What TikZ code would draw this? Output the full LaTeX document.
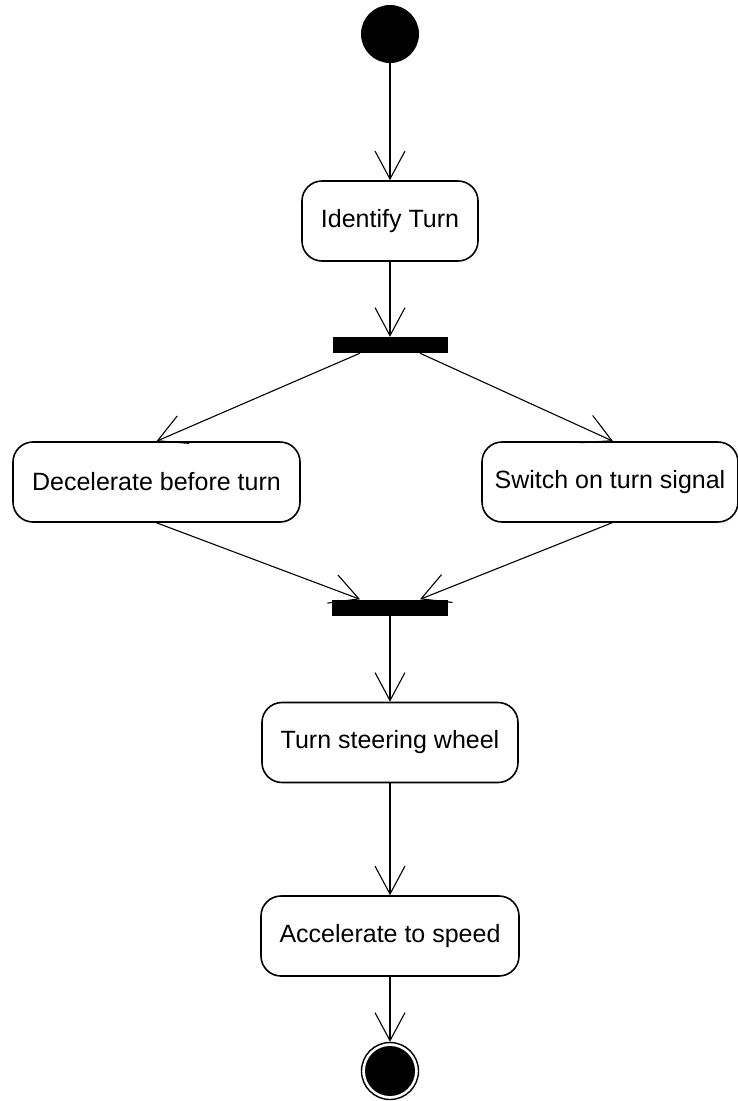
\documentclass[tikz,border=0pt]{standalone}
\usepackage{fontspec}
\setmainfont{Liberation Sans}
\usetikzlibrary{arrows.meta}

\begin{document}
\begin{tikzpicture}[x=1pt, y=-1pt,
    every node/.style={font=\fontsize{25}{30}\selectfont},
    activity/.style={draw, line width=1.6pt, rounded corners=20pt,
      minimum height=80pt, inner sep=0pt},
    syncbar/.style={fill=black, minimum height=16pt, inner sep=0pt},
    flow/.style={line width=1.1pt,
      -{Straight Barb[length=28pt, width=30pt, line width=1.1pt]}}]
  \useasboundingbox (0,0) rectangle (737,1101);

  % ============ NODES ============
  \node[circle, fill=black, minimum size=58pt, inner sep=0pt] (start) at (390,34) {};
  \node[activity, minimum width=176pt] (identify) at (390,221) {Identify Turn};
  \node[syncbar, minimum width=115pt] (fork) at (390,345) {};
  \node[activity, minimum width=287pt] (decel) at (156.5,482) {Decelerate before turn};
  \node[activity, minimum width=256pt] (signal) at (610,482) {Switch on turn signal};
  \node[syncbar, minimum width=116pt] (join) at (390,607.5) {};
  \node[activity, minimum width=256pt] (steer) at (390,742.5) {Turn steering wheel};
  \node[activity, minimum width=258pt] (accel) at (390,936) {Accelerate to speed};
  \node[circle, draw, line width=1.4pt, minimum size=57pt, inner sep=0pt] (final) at (390,1071) {};
  \fill (final.center) circle (25pt);

  % ============ CONNECTORS ============
  \draw[flow] (start) -- (identify);
  \draw[flow] (identify) -- (fork);
  \draw[flow] ([xshift=-30pt]fork.south) -- (decel.north);
  \draw[flow] ([xshift=30pt]fork.south) -- ([xshift=3pt]signal.north);
  \draw[flow] (decel.south) -- ([xshift=-30pt]join.north);
  \draw[flow] ([xshift=2pt]signal.south) -- ([xshift=30pt]join.north);
  \draw[flow] (join) -- (steer);
  \draw[flow] (steer) -- (accel);
  \draw[flow] (accel) -- (final);
\end{tikzpicture}
\end{document}
